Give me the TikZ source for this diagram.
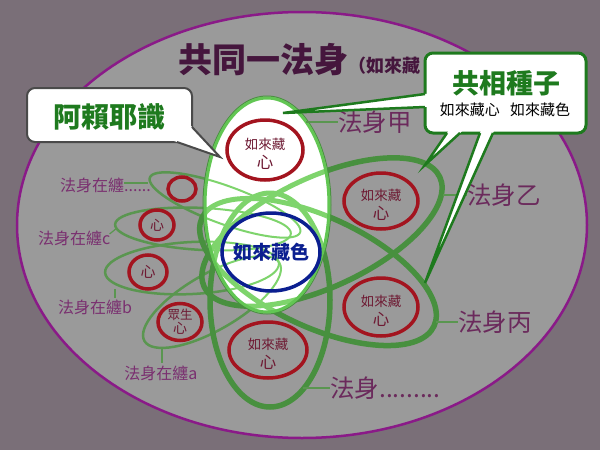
\documentclass[tikz,border=0pt]{standalone}
\usepackage{fontspec}
\setmainfont{Noto Sans CJK TC}
\usetikzlibrary{shapes.geometric,calc}
\definecolor{bgc}{HTML}{7A6F78}
\definecolor{ovc}{HTML}{9A9A9A}
\definecolor{ovb}{HTML}{8A1A88}
\definecolor{titc}{HTML}{45163D}
\definecolor{labc}{HTML}{6B2A5C}
\definecolor{labz}{HTML}{7A3070}
\definecolor{gthk}{HTML}{48903F}
\definecolor{gthn}{HTML}{5A9650}
\definecolor{glt}{HTML}{7ED46C}
\definecolor{gcen}{HTML}{62C653}
\definecolor{redc}{HTML}{A3141F}
\definecolor{redt}{HTML}{6E1A33}
\definecolor{bluc}{HTML}{0B1F90}
\definecolor{callg}{HTML}{1E7A1E}
\definecolor{akline}{HTML}{4A4A4A}
\newcommand\fashenset[2]{%
  \draw[#2, rotate around={-20:(225,205)}] (225,205) ellipse [x radius=80pt, y radius=19pt];
  \draw[#2, rotate around={-3:(203,229)}] (203,229) ellipse [x radius=88pt, y radius=21pt];
  \draw[#2, rotate around={3:(192,268)}] (192,268) ellipse [x radius=87pt, y radius=26pt];
  \draw[#2, rotate around={30:(212,302)}] (212,302) ellipse [x radius=78pt, y radius=28pt];
  \draw[#1] (270,300) ellipse [x radius=60pt, y radius=107pt];
  \draw[#1, rotate around={25:(322,232)}] (322,232) ellipse [x radius=130pt, y radius=55pt];
  \draw[#1, rotate around={-25:(318,272)}] (318,272) ellipse [x radius=128pt, y radius=55pt];
}
\newcommand\tathring[5]{%
  \node[ring, minimum width=#4, minimum height=#5] (#1) at (#2,#3) {};
  \node[rtxt, font=\fontsize{13.5}{14}\selectfont] (#1a) at ([yshift=6pt]#1.center) {如來藏};
  \node[rtxt, font=\fontsize{16.5}{17}\selectfont] (#1b) at ([yshift=-12pt]#1.center) {心};
}
\begin{document}
\begin{tikzpicture}[x=1pt,y=-1pt,
  thk/.style={draw=gthk, line width=5.5pt},
  thn/.style={draw=gthn, line width=2.5pt},
  thkl/.style={draw=glt, line width=5pt},
  thnl/.style={draw=glt, line width=2pt},
  ring/.style={ellipse, draw=redc, line width=3.5pt, inner sep=0pt},
  rtxt/.style={text=redt, inner sep=0pt},
  lab/.style={text=labc, inner sep=0pt, font=\fontsize{24.5}{25}\selectfont},
  labs/.style={text=labz, inner sep=0pt, font=\fontsize{16}{16}\selectfont},
  lead/.style={draw=gthn, line width=1.5pt},
  tailg/.style={draw=callg, line width=2.5pt, line join=miter},
]
\useasboundingbox (0,0) rectangle (600,450);
\fill[bgc] (0,0) rectangle (600,450);
\draw[fill=ovc, draw=ovb, line width=2.5pt] (302,225) ellipse [x radius=285pt, y radius=213pt];

% title
\node[anchor=base west, inner sep=0pt, text=titc] (title) at (178,72)
  {{\fontsize{34}{34}\selectfont\bfseries 共同一法身}{\fontsize{18}{18}\selectfont\bfseries （如來藏}};

% dharma-body ellipses
\fashenset{thk}{thn}

% central ellipse (alaya)
\fill[white] (267,205) ellipse [x radius=62pt, y radius=107pt];
\begin{scope}
  \clip (267,205) ellipse [x radius=62pt, y radius=107pt];
  \fashenset{thkl}{thnl}
\end{scope}
\draw[gthk, line width=1pt] (267,205) ellipse [x radius=64pt, y radius=109pt];
\draw[gcen, line width=3pt] (267,205) ellipse [x radius=62pt, y radius=107pt];

% red rings
\tathring{ra}{265}{150}{76pt}{60pt}
\tathring{rb}{381}{201}{74pt}{56pt}
\tathring{rc}{381}{307}{74pt}{58pt}
\tathring{rd}{268}{350}{78pt}{56pt}
\node[ring, minimum width=28pt, minimum height=24pt] (s4) at (182,189) {};
\node[ring, minimum width=34pt, minimum height=30pt] (s3) at (157,225) {};
\node[rtxt, font=\fontsize{14}{14}\selectfont] (s3t) at (s3) {心};
\node[ring, minimum width=38pt, minimum height=34pt] (s2) at (148,272) {};
\node[rtxt, font=\fontsize{15}{15}\selectfont] (s2t) at (s2) {心};
\node[ring, minimum width=44pt, minimum height=37pt] (s1) at (180,322) {};
\node[rtxt, font=\fontsize{12.5}{13}\selectfont] (s1a) at ([yshift=7pt]s1.center) {眾生};
\node[rtxt, font=\fontsize{14}{14}\selectfont] (s1b) at ([yshift=-6pt]s1.center) {心};

% blue ring
\node[ellipse, draw=bluc, line width=3.5pt, minimum width=98pt, minimum height=78pt, inner sep=0pt] (blue) at (271,252) {};
\node[text=bluc, inner sep=0pt, font=\fontsize{19}{19}\selectfont\bfseries] (bluet) at (271,252) {如來藏色};

% labels and leaders
\node[lab, anchor=west] (l1) at (338,122) {法身甲};
\coordinate (e1) at (306,122);
\draw[lead] (e1) -- (l1.west);
\node[lab, anchor=west] (l2) at (467,195) {法身乙};
\coordinate (e2) at (443,195);
\draw[lead] (e2) -- (l2.west);
\node[lab, anchor=west] (l3) at (458,322) {法身丙};
\coordinate (e3) at (436,322);
\draw[lead] (e3) -- (l3.west);
\node[lab, anchor=west] (l4) at (330,388) {法身.........};
\coordinate (e4) at (303,388);
\draw[lead] (e4) -- (l4.west);

\node[labs, anchor=west] (z4) at (60,185) {法身在纏......};
\coordinate (z4l) at (124,183);
\coordinate (f4) at (148,183);
\draw[lead, line width=1.2pt] (z4l) -- (f4);
\node[labs, anchor=west] (z3) at (38,238) {法身在纏c};
\coordinate (f3) at (117,228);
\draw[lead, line width=1.2pt] (z3.east) ++(-1,-4) coordinate (z3l) (z3l) -- (f3);
\node[labs, anchor=center] (z2) at (95,307) {法身在纏b};
\coordinate (f2) at (115,289);
\draw[lead, line width=1.2pt] (f2) -- (115,298) coordinate (z2l);
\node[labs, anchor=center] (z1) at (161,373) {法身在纏a};
\coordinate (f1) at (162,349);
\draw[lead, line width=1.2pt] (f1) -- (162,363) coordinate (z1l);

% callout: alaya
\node[draw=akline, line width=2pt, fill=white, rounded corners=8pt, minimum width=165pt, minimum height=54pt, inner sep=0pt] (akbox) at (109.5,115) {};
\node[text=callg, inner sep=0pt, font=\fontsize{28}{28}\selectfont\bfseries] (aktext) at (109,117) {阿賴耶識};
\coordinate (akt) at (220,157);
\coordinate (aka) at (192,127);
\coordinate (akc) at (177,142);
\fill[white] ($(akt)!1.15!(aka)$) -- (akt) -- ($(akt)!1.15!(akc)$) -- cycle;
\draw[akline, line width=2pt] (aka) -- (akt) -- (akc);

% callout: common seeds
\node[draw=callg, line width=3pt, fill=white, rounded corners=8pt, minimum width=161pt, minimum height=80pt, inner sep=0pt] (gbox) at (505.5,93) {};
\node[text=callg, inner sep=0pt, font=\fontsize{27}{27}\selectfont\bfseries] (gt1) at (506,83) {共相種子};
\node[text=black, inner sep=0pt, font=\fontsize{15}{15}\selectfont] (gt2) at (505,110) {如來藏心\hspace{0.7em}如來藏色};
\coordinate (ga1) at (425,94);  \coordinate (gb1) at (425,107); \coordinate (gt1t) at (283,113);
\coordinate (ga2) at (447,133); \coordinate (gb2) at (460,133); \coordinate (gt2t) at (425,165);
\coordinate (ga3) at (480,133); \coordinate (gb3) at (493,133); \coordinate (gt3t) at (425,283);
\fill[white] ($(gt1t)!1.04!(ga1)$) -- (gt1t) -- ($(gt1t)!1.04!(gb1)$) -- cycle;
\fill[white] ($(gt2t)!1.12!(ga2)$) -- (gt2t) -- ($(gt2t)!1.12!(gb2)$) -- cycle;
\fill[white] ($(gt3t)!1.04!(ga3)$) -- (gt3t) -- ($(gt3t)!1.04!(gb3)$) -- cycle;
\draw[tailg] (ga1) -- (gt1t) -- (gb1);
\draw[tailg] (ga2) -- (gt2t) -- (gb2);
\draw[tailg] (ga3) -- (gt3t) -- (gb3);
\end{tikzpicture}
\end{document}
